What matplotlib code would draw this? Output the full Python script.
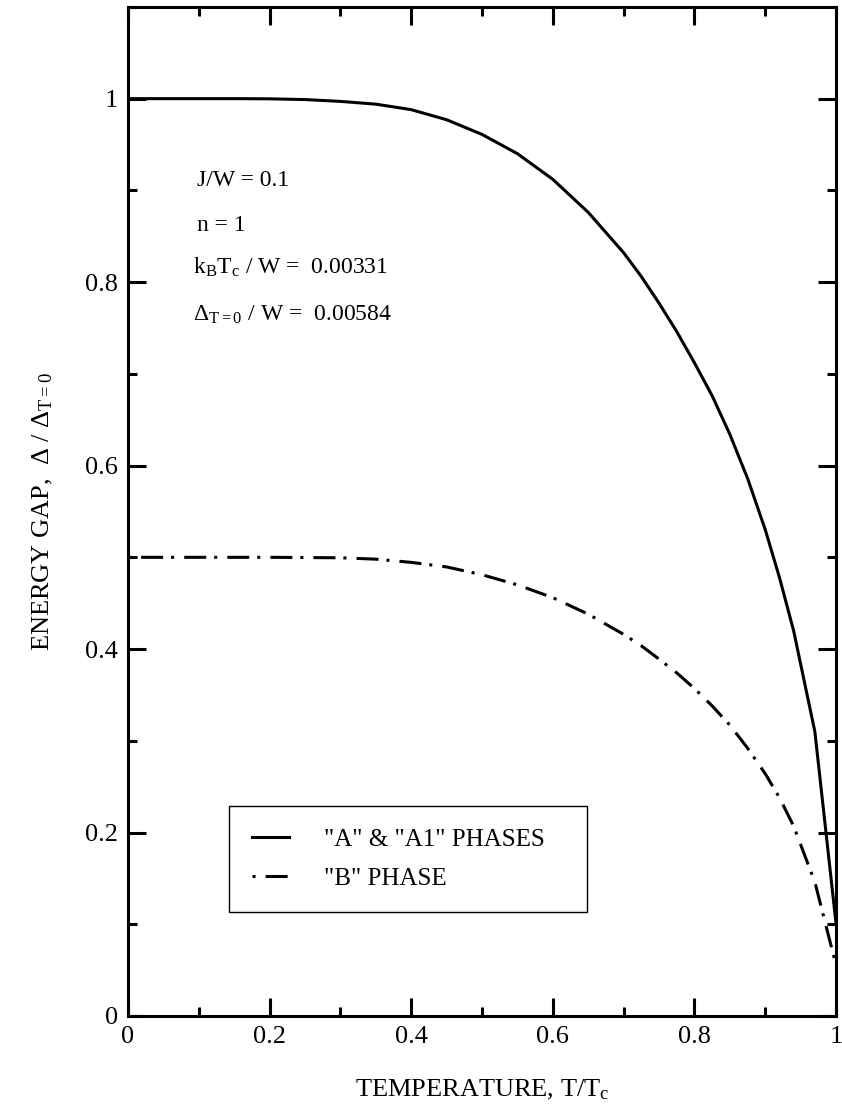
import matplotlib
matplotlib.use("Agg")
import matplotlib.pyplot as plt
from matplotlib.ticker import MultipleLocator, FuncFormatter

plt.rcParams["font.family"] = ["Liberation Serif", "DejaVu Serif"]
plt.rcParams["mathtext.fontset"] = "custom"
plt.rcParams["mathtext.rm"] = "Liberation Serif"
plt.rcParams["mathtext.it"] = "Liberation Serif"
plt.rcParams["mathtext.default"] = "regular"

# reduced temperature T/Tc and normalised gap values
t_a = [0.0, 0.05, 0.1, 0.15, 0.2, 0.25, 0.3, 0.35, 0.4, 0.45, 0.5, 0.55,
       0.6, 0.65, 0.7, 0.725, 0.75, 0.775, 0.8, 0.825, 0.85, 0.875, 0.9,
       0.92, 0.94, 0.97, 1.0]
gap_a = [1.0, 1.0, 1.0, 1.0, 0.9998, 0.999, 0.997, 0.994, 0.988, 0.977,
         0.961, 0.940, 0.912, 0.876, 0.832, 0.806, 0.777, 0.746, 0.712,
         0.676, 0.634, 0.586, 0.530, 0.478, 0.42, 0.31, 0.10]

t_b = [0.0, 0.1, 0.2, 0.3, 0.35, 0.4, 0.45, 0.5, 0.55, 0.6, 0.65, 0.7,
       0.725, 0.75, 0.775, 0.8, 0.825, 0.85, 0.875, 0.9, 0.92, 0.94,
       0.97, 1.0]
gap_b = [0.5, 0.5, 0.5, 0.4995, 0.498, 0.4945, 0.4895, 0.481, 0.47, 0.456,
         0.438, 0.416, 0.4035, 0.389, 0.374, 0.357, 0.338, 0.317, 0.292,
         0.264, 0.238, 0.207, 0.146, 0.055]

labels = ['"A" & "A1" PHASES', '"B" PHASE']
notes = ["J/W = 0.1", "n = 1",
         r"k$_\mathregular{B}$T$_\mathregular{c}$ / W =  0.00331",
         r"Δ$_\mathregular{T=0}$ / W =  0.00584"]

fig = plt.figure(figsize=(8.42, 11.15), dpi=100)
ax = fig.add_axes([0.152, 0.0888, 0.841, 0.905])

lw = 2.2
ax.plot(t_a, gap_a, color="black", linewidth=lw, label=labels[0])
ax.plot(t_b, gap_b, color="black", linewidth=lw,
        linestyle=(9.8, (7.2, 2.6, 1.0, 3.3)), label=labels[1])

ax.set_xlim(0, 1)
ax.set_ylim(0, 1.1)
ax.xaxis.set_major_locator(MultipleLocator(0.2))
ax.xaxis.set_minor_locator(MultipleLocator(0.1))
ax.yaxis.set_major_locator(MultipleLocator(0.2))
ax.yaxis.set_minor_locator(MultipleLocator(0.1))
fmt = FuncFormatter(lambda v, p: f"{v:g}")
ax.xaxis.set_major_formatter(fmt)
ax.yaxis.set_major_formatter(fmt)

ax.tick_params(which="both", direction="in", top=True, right=True,
               width=2.2, labelsize=19, pad=7)
ax.tick_params(which="major", length=13)
ax.tick_params(which="minor", length=6.5)
for sp in ax.spines.values():
    sp.set_linewidth(2.2)

ax.set_xlabel(r"TEMPERATURE, T/T$_\mathregular{c}$", fontsize=19, labelpad=22)
ax.set_ylabel(r"ENERGY GAP,  Δ / Δ$_\mathregular{T=0}$", fontsize=19, labelpad=22)

ys = [0.905, 0.856, 0.809, 0.758]
xs = [0.097, 0.097, 0.092, 0.092]
for x, y, s in zip(xs, ys, notes):
    ax.text(x, y, s, fontsize=17, ha="left", va="baseline")

leg = ax.legend(loc="lower left", bbox_to_anchor=(0.1427, 0.103, 0.506, 0.126),
                mode="expand", borderaxespad=0, fontsize=18, handlelength=1.5,
                handletextpad=1.4, borderpad=0.9, labelspacing=0.65,
                fancybox=False, edgecolor="black", framealpha=1)
leg.get_frame().set_linewidth(1.0)

fig.savefig("out.png", dpi=100)
